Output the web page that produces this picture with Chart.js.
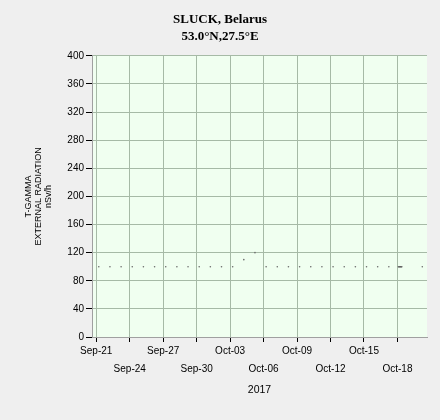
<!DOCTYPE html>
<html>
<head>
<meta charset="utf-8">
<script src="https://cdn.jsdelivr.net/npm/chart.js@4"></script>
<style>
  html, body { margin: 0; padding: 0; background: #efefef; }
  #wrap { width: 440px; height: 420px; }
</style>
</head>
<body>
<div id="wrap"><canvas id="radChart" width="440" height="420"></canvas></div>
<script>
// measurement times (2017, MM-DD HH:mm) and dose rate in nSv/h
const times = [
  '09-21 05:30', '09-22 05:30', '09-23 05:30', '09-24 05:30', '09-25 05:30',
  '09-26 05:30', '09-27 05:30', '09-28 05:30', '09-29 05:30', '09-30 05:30',
  '10-01 05:30', '10-02 05:30', '10-03 05:30', '10-04 05:30', '10-05 05:30',
  '10-06 05:30', '10-07 05:30', '10-08 05:30', '10-09 05:30', '10-10 05:30',
  '10-11 05:30', '10-12 05:30', '10-13 05:30', '10-14 05:30', '10-15 05:30',
  '10-16 05:30', '10-17 05:30', '10-18 02:00', '10-18 05:30', '10-18 09:30',
  '10-20 05:30'
];
const values = [
  100, 100, 100, 100, 100, 100, 100, 100, 100, 100,
  100, 100, 100, 110, 120,
  100, 100, 100, 100, 100, 100, 100, 100, 100, 100,
  100, 100, 100, 100, 100,
  100
];
const tickLabels = ['Sep-21', 'Sep-24', 'Sep-27', 'Sep-30', 'Oct-03',
                    'Oct-06', 'Oct-09', 'Oct-12', 'Oct-15', 'Oct-18'];
const yTicks = [0, 40, 80, 120, 160, 200, 240, 280, 320, 360, 400];

// days counted from Sep-21 00:00
const origin = Date.UTC(2017, 8, 21);
function toDay(s) {
  const [md, hm] = s.split(' ');
  const [m, d] = md.split('-').map(Number);
  const [h, mi] = hm.split(':').map(Number);
  return (Date.UTC(2017, m - 1, d, h, mi) - origin) / 86400000;
}
const points = times.map((t, i) => ({ x: toDay(t), y: values[i] }));
const tickDays = tickLabels.map((_, i) => i * 3);

const plotBg = {
  id: 'plotBg',
  beforeDraw(chart) {
    const { ctx, chartArea: a } = chart;
    ctx.save();
    ctx.fillStyle = '#efefef';
    ctx.fillRect(0, 0, chart.width, chart.height);
    ctx.fillStyle = '#f0fff0';
    ctx.fillRect(a.left, a.top, a.right - a.left, a.bottom - a.top);
    ctx.restore();
  }
};

const gridColor = '#a6baa6';
const tickFont = { family: 'Liberation Sans', size: 10 };

new Chart(document.getElementById('radChart').getContext('2d'), {
  type: 'line',
  data: {
    datasets: [{
      data: points,
      borderColor: '#555555',
      borderWidth: 1.5,
      pointRadius: 0.8,
      pointBorderWidth: 0,
      pointBackgroundColor: '#6a6a6a',
      spanGaps: 0.2
    }]
  },
  options: {
    responsive: false,
    animation: false,
    layout: { padding: 0 },
    plugins: {
      legend: { display: false },
      tooltip: { enabled: false },
      title: {
        display: true,
        text: ['SLUCK, Belarus', '53.0°N,27.5°E'],
        color: '#000',
        font: { family: 'Liberation Serif', size: 13, weight: 'bold', lineHeight: 1.3 },
        padding: { top: 11, bottom: 11 }
      }
    },
    scales: {
      x: {
        type: 'linear',
        min: -0.38,
        max: 29.65,
        afterBuildTicks(scale) {
          scale.ticks = tickDays.map(v => ({ value: v }));
        },
        afterFit(scale) { scale.height = 83; },
        ticks: {
          autoSkip: false,
          maxRotation: 0,
          padding: 0,
          color: '#000',
          font: { family: 'Liberation Sans', size: 10, lineHeight: '18px' },
          callback: (v, i) => (i % 2 ? ['', tickLabels[i]] : tickLabels[i])
        },
        grid: { color: gridColor, tickColor: '#000', tickLength: 5 },
        border: { color: '#a0a0a0' },
        title: {
          display: true,
          text: '2017',
          color: '#000',
          font: { family: 'Liberation Sans', size: 10.5, lineHeight: 1.2 },
          padding: { top: 0, bottom: 24 }
        }
      },
      y: {
        min: 0,
        max: 400,
        afterBuildTicks(scale) {
          scale.ticks = yTicks.map(v => ({ value: v }));
        },
        afterFit(scale) { scale.width = 92; },
        ticks: { color: '#000', font: tickFont, padding: 2 },
        grid: { color: gridColor, tickColor: '#000', tickLength: 6 },
        border: { color: '#a0a0a0' },
        title: {
          display: true,
          text: ['T-GAMMA', 'EXTERNAL RADIATION', 'nSv/h'],
          color: '#000',
          font: { family: 'Liberation Sans', size: 9, lineHeight: '10px' },
          padding: { top: 24, bottom: 0 }
        }
      },
      // empty right-hand strip so the title stays centred on the canvas
      spacer: {
        position: 'right',
        display: true,
        afterFit(scale) { scale.width = 13; },
        ticks: { display: false },
        grid: { display: false },
        border: { display: false }
      }
    }
  },
  plugins: [plotBg]
});
</script>
</body>
</html>
